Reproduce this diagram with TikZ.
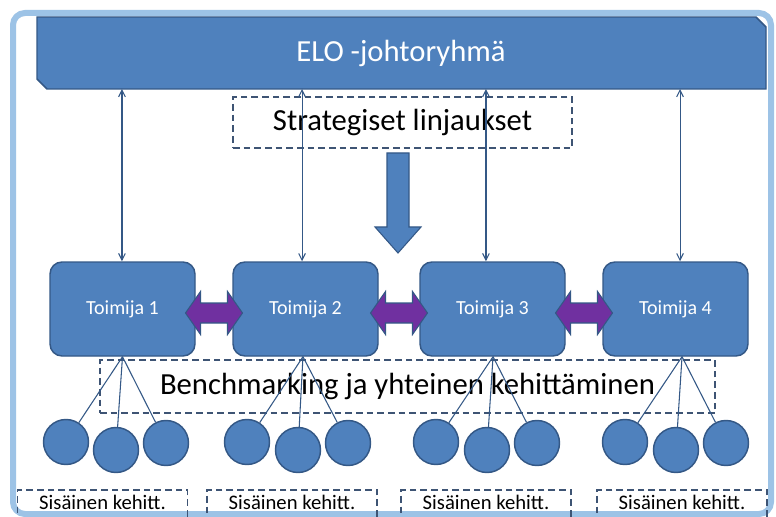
\documentclass[tikz,border=0pt]{standalone}
\usepackage{fontspec}
\setmainfont{Carlito}
\usepackage{tikz}
\usetikzlibrary{arrows.meta}
\usetikzlibrary{calc}
\definecolor{eloblue}{RGB}{79,129,189}
\definecolor{eloedge}{RGB}{52,88,134}
\definecolor{elopurple}{RGB}{112,48,160}
\definecolor{elodash}{RGB}{62,84,116}
\definecolor{eloframe}{RGB}{157,195,230}

\begin{document}
\begin{tikzpicture}[x=0.75pt,y=-0.75pt,
  toimija/.style={draw=eloedge, line width=1.1pt, fill=eloblue, rounded corners=9pt,
    minimum width=108.75pt, minimum height=70.5pt, text=white, font=\fontsize{15}{17}\selectfont},
  dashbox/.style={draw=elodash, line width=1.4pt, dash pattern=on 5pt off 3pt,
    inner sep=0pt, font=\fontsize{23}{26}\selectfont},
  bubble/.style={circle, draw=eloedge, line width=1.1pt, fill=eloblue, minimum size=33.75pt, inner sep=0pt},
  link/.style={eloedge, line width=0.8pt},
  both/.style={link, {Straight Barb[length=5pt,width=5pt]}-{Straight Barb[length=5pt,width=5pt]}},
  block/.style={draw=eloedge, line width=0.8pt, fill=eloblue},
  duo/.style={draw=eloedge, line width=0.8pt, fill=elopurple}]
\clip (0,0) rectangle (776,517);
\fill [white] (0,0) rectangle (776,517);
\draw [eloframe, line width=4.5pt, rounded corners=9pt] (13,13) rectangle (771,514);

% top group
\draw [block, line width=1.1pt] (37,17) -- (756,17) -- (766,27) -- (766,89) -- (47,89) -- (37,79) -- cycle;
\coordinate (elobase) at (400,89);
\node [text=white, font=\fontsize{23}{26}\selectfont] (elo) at (401,53) {ELO -johtoryhmä};
\node [dashbox, minimum width=254.25pt, minimum height=38.25pt] (strat) at (402.5,122.5) {Strategiset linjaukset};
\draw [block] (387,153) -- (409,153) -- (409,227) -- (421,227) -- (398,253) -- (375,227) -- (387,227) -- cycle;

% actors
\node [toimija] (t1) at (122.5,309) {Toimija 1};
\node [toimija] (t2) at (305.5,309) {Toimija 2};
\node [toimija] (t3) at (492.5,309) {Toimija 3};
\node [toimija] (t4) at (675.5,309) {Toimija 4};
\foreach \n/\s in {1/-0.4pt, 2/-2.6pt, 3/-4.9pt, 4/3.4pt}
  \draw [both] ([xshift=\s]t\n.north) -- ([xshift=\s]t\n.north |- elobase);
\foreach \a/\b in {1/2, 2/3, 3/4}
  \draw [duo, shift={($(t\a.east)!0.5!(t\b.west)+(0,4)$)}]
    (-28.5,0) -- (-13.5,-21.5) -- (-13.5,-10) -- (13.5,-10) -- (13.5,-21.5) -- (28.5,0)
    -- (13.5,21.5) -- (13.5,10) -- (-13.5,10) -- (-13.5,21.5) -- cycle;

\node [dashbox, minimum width=461.25pt, minimum height=39.75pt] (bench) at (407.5,386.5) {Benchmarking ja yhteinen kehittäminen};

% internal development
\foreach \n/\s/\xa/\xb/\xc/\xs in {1/0pt/66/116/166/102.5, 2/-1.9pt/247/298/348/292, 3/0.4pt/436/487/537/486, 4/4.9pt/625/676/726/682} {
  \node [bubble] (c\n a) at (\xa,442) {};
  \node [bubble] (c\n b) at (\xb,450) {};
  \node [bubble] (c\n c) at (\xc,443) {};
  \draw [link] ([xshift=\s]t\n.south) -- (c\n a);
  \draw [link] ([xshift=\s]t\n.south) -- (c\n b);
  \draw [link] ([xshift=\s]t\n.south) -- (c\n c);
  \node [dashbox, font=\fontsize{15.5}{17}\selectfont, minimum width=127.5pt,
    text height=14.5pt, text depth=22pt, anchor=north] (s\n) at (\xs,489) {Sisäinen kehitt.};
}
\end{tikzpicture}
\end{document}
